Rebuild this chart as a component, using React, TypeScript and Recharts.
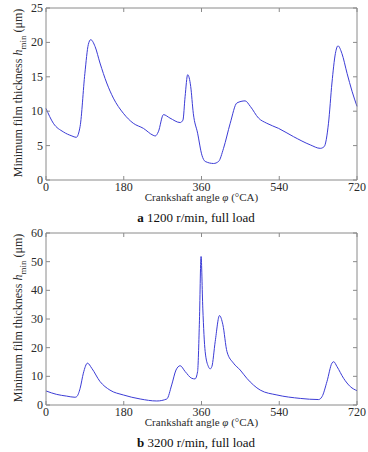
import { LineChart, Line, XAxis, YAxis, Label } from 'recharts'

// (a) 1200 r/min, full load
const angleA = [0, 17, 40, 60, 70, 79, 90, 98, 103.5, 113.6, 125, 140.6, 156, 179, 202, 225.6, 248, 253, 260, 272, 287, 310.6, 317, 322, 328, 335, 341, 351, 361, 368.5, 388, 399.6, 411, 426.5, 442, 461, 473, 492, 511, 538.5, 573, 612, 635, 644, 654, 662, 670, 676, 685, 697, 708.5, 720]
const filmA = [10.4, 8.25, 7.0, 6.4, 6.2, 7.8, 15.5, 19.7, 20.4, 19.4, 17, 14.1, 11.9, 9.7, 8.25, 7.5, 6.5, 6.4, 7.0, 9.5, 9.0, 8.35, 8.7, 12.1, 15.3, 13.6, 9.7, 6.8, 3.6, 2.7, 2.4, 2.7, 4.6, 8.25, 11.2, 11.5, 10.7, 9.0, 8.25, 7.5, 6.3, 5.1, 4.6, 4.85, 8.25, 14.1, 18.4, 19.5, 18.4, 15.5, 12.9, 10.7]

// (b) 3200 r/min, full load
const angleB = [0, 24.7, 48, 67, 71, 79, 86.5, 96, 106, 125, 148, 179, 218, 256.5, 279.7, 291, 301, 310.6, 322, 337.6, 345, 351, 355, 359, 363, 368.5, 376, 380, 384, 391.7, 401.7, 409.5, 419, 434, 449.6, 465, 496, 534.6, 588.7, 631, 639, 650.5, 662, 666, 673.7, 689, 704.6, 720]
const filmB = [4.9, 3.7, 3.1, 2.7, 2.9, 5.8, 11.1, 14.6, 12.8, 8.2, 5.2, 3.5, 2.1, 1.4, 2.1, 7.0, 12.2, 13.7, 11.7, 9.3, 9.1, 11.7, 28, 51.8, 33.8, 18.6, 13.4, 12.6, 13.4, 22.1, 31.2, 28, 18.6, 14.6, 12.2, 9.3, 5.2, 3.5, 2.3, 1.9, 2.9, 8.2, 14.6, 15.1, 13.4, 9.3, 6.4, 5.0]

const xTicks = [0, 180, 360, 540, 720]
const yTicksA = [0, 5, 10, 15, 20, 25]
const yTicksB = [0, 10, 20, 30, 40, 50, 60]

const FONT = '"Liberation Serif", "Times New Roman", serif'
const AXIS = '#8a8a8a'
const TEXT = '#2a2a2a'
const LINE = '#3c3cd6'
const MARK = 4

const CHART_W = 368
const CHART_H = 205
const MARGIN = { top: 8, right: 11, left: 0, bottom: 0 }
const Y_AXIS_W = 46
const X_AXIS_H = 25
const PLOT_W = CHART_W - Y_AXIS_W - MARGIN.right
const PLOT_H = CHART_H - X_AXIS_H - MARGIN.top

const toRows = (xs: number[], ys: number[]) => xs.map((x, i) => ({ angle: x, h: ys[i] }))

// bottom tick: inward marks at bottom and top edge, label; right frame edge drawn at the last tick
function BottomTick({ x, y, payload, lastValue }: any) {
  const last = Number(payload.value) === lastValue
  return (
    <g>
      <line x1={x} x2={x} y1={y} y2={y - MARK} stroke={AXIS} strokeWidth={1} />
      <line x1={x} x2={x} y1={y - PLOT_H} y2={y - PLOT_H + MARK} stroke={AXIS} strokeWidth={1} />
      {last ? <line x1={x} x2={x} y1={y} y2={y - PLOT_H} stroke={AXIS} strokeWidth={1} /> : null}
      <text x={x} y={y + 11} textAnchor="middle" fontFamily={FONT} fontSize={12} fill={TEXT}>
        {payload.value}
      </text>
    </g>
  )
}

// left tick: inward marks on left and right edge, label; top frame edge drawn at the last tick
function LeftTick({ x, y, payload, lastValue }: any) {
  const ax = x + 3
  const last = Number(payload.value) === lastValue
  return (
    <g>
      <line x1={ax} x2={ax + MARK} y1={y} y2={y} stroke={AXIS} strokeWidth={1} />
      <line x1={ax + PLOT_W} x2={ax + PLOT_W - MARK} y1={y} y2={y} stroke={AXIS} strokeWidth={1} />
      {last ? <line x1={ax} x2={ax + PLOT_W} y1={y} y2={y} stroke={AXIS} strokeWidth={1} /> : null}
      <text x={x} y={y + 4} textAnchor="end" fontFamily={FONT} fontSize={12} fill={TEXT}>
        {payload.value}
      </text>
    </g>
  )
}

function XLabel({ viewBox }: any) {
  const cx = viewBox.x + viewBox.width / 2
  return (
    <text x={cx} y={viewBox.y + 21} textAnchor="middle" fontFamily={FONT} fontSize={11} fill={TEXT}>
      Crankshaft angle <tspan fontStyle="italic">φ</tspan> (°CA)
    </text>
  )
}

function YLabel({ viewBox }: any) {
  const cx = 22
  const cy = viewBox.y + viewBox.height / 2 - 1
  return (
    <text
      x={cx}
      y={cy}
      transform={`rotate(-90 ${cx} ${cy})`}
      textAnchor="middle"
      fontFamily={FONT}
      fontSize={12}
      fill={TEXT}
    >
      Minimum film thickness <tspan fontStyle="italic">h</tspan>
      <tspan fontSize={9} dy={4}>min</tspan>
      <tspan dy={-4}> (μm)</tspan>
    </text>
  )
}

function FilmChart({ xs, ys, yMax, yTicks }: { xs: number[]; ys: number[]; yMax: number; yTicks: number[] }) {
  return (
    <LineChart width={CHART_W} height={CHART_H} data={toRows(xs, ys)} margin={MARGIN}>
      <XAxis
        dataKey="angle"
        type="number"
        domain={[0, 720]}
        ticks={xTicks}
        height={X_AXIS_H}
        stroke={AXIS}
        tickLine={false}
        tickSize={0}
        tickMargin={0}
        tick={<BottomTick lastValue={xTicks[xTicks.length - 1]} />}
        interval={0}
      >
        <Label content={<XLabel />} />
      </XAxis>
      <YAxis
        type="number"
        domain={[0, yMax]}
        ticks={yTicks}
        width={Y_AXIS_W}
        stroke={AXIS}
        tickLine={false}
        tickSize={0}
        tickMargin={3}
        tick={<LeftTick lastValue={yTicks[yTicks.length - 1]} />}
        interval={0}
      >
        <Label content={<YLabel />} />
      </YAxis>
      <Line
        dataKey="h"
        type="monotone"
        stroke={LINE}
        strokeWidth={1}
        dot={false}
        isAnimationActive={false}
      />
    </LineChart>
  )
}

function Caption({ letter, text, top }: { letter: string; text: string; top: number }) {
  return (
    <div
      style={{
        position: 'absolute',
        top,
        left: 0,
        width: 392,
        textAlign: 'center',
        fontFamily: FONT,
        fontSize: 13,
        color: '#111',
        lineHeight: '16px',
      }}
    >
      <b>{letter}</b> {text}
    </div>
  )
}

export default function App() {
  return (
    <div style={{ position: 'absolute', top: 0, left: 0, width: 368, height: 452, background: '#fff' }}>
      <div style={{ position: 'absolute', top: 0, left: 0 }}>
        <FilmChart xs={angleA} ys={filmA} yMax={25} yTicks={yTicksA} />
      </div>
      <Caption letter="a" text="1200 r/min, full load" top={210} />
      <div style={{ position: 'absolute', top: 225, left: 0 }}>
        <FilmChart xs={angleB} ys={filmB} yMax={60} yTicks={yTicksB} />
      </div>
      <Caption letter="b" text="3200 r/min, full load" top={435} />
    </div>
  )
}
